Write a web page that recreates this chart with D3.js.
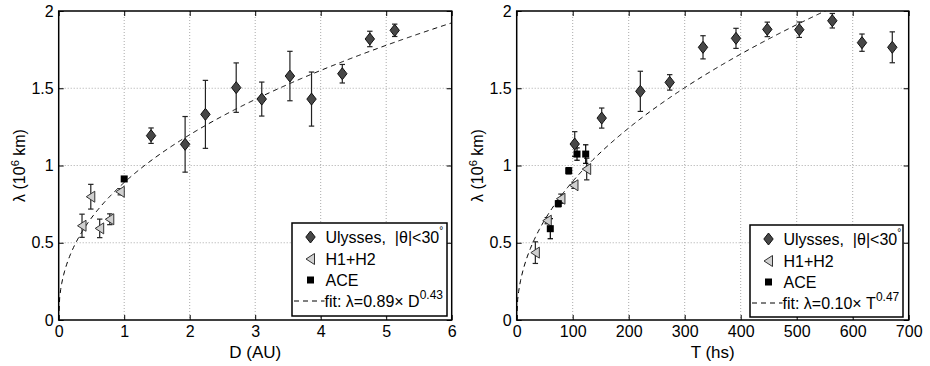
<!DOCTYPE html>
<html><head><meta charset="utf-8">
<script src="https://cdn.jsdelivr.net/npm/d3@7/dist/d3.min.js"></script>
<style>body{margin:0;background:#fff}svg{display:block;font-family:"Liberation Sans",Arial,sans-serif}</style>
</head><body><svg id="c" width="930" height="366"></svg>
<script>
// ---- Left panel data (D in AU) ----
const ulyD    = [1.41,1.93,2.24,2.71,3.10,3.53,3.86,4.33,4.75,5.13];
const ulyDLam = [1.193,1.137,1.331,1.504,1.430,1.579,1.430,1.594,1.819,1.875];
const ulyDErr = [0.05,0.18,0.22,0.16,0.11,0.16,0.175,0.06,0.05,0.04];
const hD      = [0.356,0.49,0.626,0.78,0.94];
const hDLam   = [0.61,0.798,0.593,0.652,0.83];
const hDErr   = [0.075,0.08,0.06,0.035,0.02];
const aceD    = [1.0];
const aceDLam = [0.913];
const aceDErr = [0.0];
const fitD    = [0.89,0.43];
// ---- Right panel data (T in hs) ----
const ulyT    = [103.6,151.8,220.8,273.2,332.7,391.6,447.5,504.6,563.6,616.6,670.7];
const ulyTLam = [1.139,1.307,1.480,1.538,1.765,1.823,1.881,1.879,1.937,1.795,1.765];
const ulyTErr = [0.08,0.065,0.13,0.05,0.075,0.065,0.047,0.05,0.047,0.056,0.10];
const hT      = [33.3,54.6,79,102.3,125];
const hTLam   = [0.436,0.643,0.785,0.872,0.977];
const hTErr   = [0.07,0.02,0.03,0.02,0.07];
const aceT    = [60,74.3,92.9,107.7,123.2];
const aceTLam = [0.591,0.753,0.966,1.074,1.074];
const aceTErr = [0.065,0.02,0.02,0.04,0.06];
const fitT    = [0.103,0.47];
const yTicks  = [0,0.5,1,1.5,2];
const yTickLabels = ["0","0.5","1","1.5","2"];
const xTicksD = [0,1,2,3,4,5,6];
const xTicksT = [0,100,200,300,400,500,600,700];

const svg = d3.select("#c");
const yTop=11, yBot=320;
const FS=16;

function panel(o){
  const x = d3.scaleLinear().domain(o.xd).range(o.xr);
  const y = d3.scaleLinear().domain([0,2]).range([yBot,yTop]);
  const g = svg.append("g");
  const id = "clip"+o.key;
  svg.append("clipPath").attr("id",id).append("rect")
     .attr("x",o.xr[0]).attr("y",yTop).attr("width",o.xr[1]-o.xr[0]).attr("height",yBot-yTop);
  // grid
  g.selectAll(".gx").data(o.xt.slice(1,-1)).enter().append("line")
    .attr("x1",d=>x(d)).attr("x2",d=>x(d)).attr("y1",yTop).attr("y2",yBot)
    .attr("stroke","#aaa").attr("stroke-width",1).attr("stroke-dasharray","1,2");
  g.selectAll(".gy").data(yTicks.slice(1,-1)).enter().append("line")
    .attr("y1",d=>y(d)).attr("y2",d=>y(d)).attr("x1",o.xr[0]).attr("x2",o.xr[1])
    .attr("stroke","#aaa").attr("stroke-width",1).attr("stroke-dasharray","1,2");
  // axes
  const ax = d3.axisBottom(x).tickValues(o.xt).tickSize(-5).tickPadding(6).tickFormat(d3.format("d"));
  const axg = g.append("g").attr("transform",`translate(0,${yBot})`).call(ax);
  const ay = d3.axisLeft(y).tickValues(yTicks).tickSize(-5).tickPadding(5).tickFormat((d,i)=>yTickLabels[i]);
  const ayg = g.append("g").attr("transform",`translate(${o.xr[0]},0)`).call(ay);
  const axt = g.append("g").attr("transform",`translate(0,${yTop})`).call(d3.axisTop(x).tickValues(o.xt).tickSize(-5).tickFormat(""));
  const ayr = g.append("g").attr("transform",`translate(${o.xr[1]},0)`).call(d3.axisRight(y).tickValues(yTicks).tickSize(-5).tickFormat(""));
  [axg,ayg,axt,ayr].forEach(a=>{
    a.select(".domain").remove();
    a.selectAll(".tick line").attr("stroke","#000");
    a.selectAll("text").attr("font-size",FS).attr("fill","#000").attr("font-family","Liberation Sans, Arial, sans-serif");
  });
  g.append("rect").attr("x",o.xr[0]).attr("y",yTop).attr("width",o.xr[1]-o.xr[0]).attr("height",yBot-yTop)
    .attr("fill","none").attr("stroke","#000").attr("stroke-width",1.5);
  // axis labels
  g.append("text").attr("x",(o.xr[0]+o.xr[1])/2).attr("y",358).attr("text-anchor","middle")
    .attr("font-size",17).text(o.xlabel);
  const yl = g.append("text").attr("transform",`translate(${o.xr[0]-34},${(yTop+yBot)/2}) rotate(-90)`)
    .attr("text-anchor","middle").attr("font-size",FS);
  yl.append("tspan").text("λ (10");
  yl.append("tspan").attr("font-size",11).attr("dy",-6).text("6");
  yl.append("tspan").attr("dy",6).text(" km)");
  // fit
  const fx = d3.range(0,401).map(i=>o.xd[1]*i/400);
  const line = d3.line().x(d=>x(d)).y(d=>y(o.fit[0]*Math.pow(d,o.fit[1])));
  g.append("path").attr("clip-path",`url(#${id})`).attr("d",line(fx))
    .attr("fill","none").attr("stroke","#000").attr("stroke-width",1).attr("stroke-dasharray","5,4");
  // error bars
  function errs(xs,ys,es,col){
    const eg = g.append("g").attr("stroke",col).attr("stroke-width",1.2);
    xs.forEach((xv,i)=>{
      if(!es[i]) return;
      const cx=x(xv), y1=y(ys[i]-es[i]), y2=y(ys[i]+es[i]);
      eg.append("line").attr("x1",cx).attr("x2",cx).attr("y1",y1).attr("y2",y2);
      eg.append("line").attr("x1",cx-2.7).attr("x2",cx+2.7).attr("y1",y1).attr("y2",y1);
      eg.append("line").attr("x1",cx-2.7).attr("x2",cx+2.7).attr("y1",y2).attr("y2",y2);
    });
  }
  errs(o.h[0],o.h[1],o.h[2],"#222");
  errs(o.a[0],o.a[1],o.a[2],"#000");
  errs(o.u[0],o.u[1],o.u[2],"#222");
  // markers
  g.selectAll(".hm").data(o.h[0]).enter().append("path")
    .attr("d",(d,i)=>tri(x(d),y(o.h[1][i]))).attr("fill","#d0d0d0").attr("stroke","#333").attr("stroke-width",1);
  g.selectAll(".am").data(o.a[0]).enter().append("rect")
    .attr("x",d=>x(d)-3.5).attr("y",(d,i)=>y(o.a[1][i])-3.5).attr("width",7).attr("height",7).attr("fill","#000");
  g.selectAll(".um").data(o.u[0]).enter().append("path")
    .attr("d",(d,i)=>dia(x(d),y(o.u[1][i]))).attr("fill","#474747").attr("stroke","#111").attr("stroke-width",1);
  // legend
  const L=o.leg;
  g.append("rect").attr("x",L[0]).attr("y",L[1]).attr("width",L[2]).attr("height",L[3])
    .attr("fill","#fff").attr("stroke","#000").attr("stroke-width",1.5);
  const mx=L[0]+18.5, tx=L[0]+33.5;
  const ry=[L[1]+14,L[1]+36,L[1]+57,L[1]+78];
  g.append("path").attr("d",dia(mx,ry[0])).attr("fill","#474747").attr("stroke","#111");
  g.append("path").attr("d",tri(mx,ry[1])).attr("fill","#d0d0d0").attr("stroke","#333");
  g.append("rect").attr("x",mx-3.5).attr("y",ry[2]-3.5).attr("width",7).attr("height",7).attr("fill","#000");
  g.append("line").attr("x1",L[0]+2).attr("x2",tx-1).attr("y1",ry[3]).attr("y2",ry[3])
    .attr("stroke","#000").attr("stroke-dasharray","5,4");
  const t0=g.append("text").attr("x",tx).attr("y",ry[0]+6).attr("font-size",FS);
  t0.append("tspan").text("Ulysses,\u00a0\u00a0|θ|<30");
  t0.append("tspan").attr("font-size",10).attr("dy",-9).text("°");
  g.append("text").attr("x",tx).attr("y",ry[1]+6).attr("font-size",FS).text("H1+H2");
  g.append("text").attr("x",tx).attr("y",ry[2]+6).attr("font-size",FS).text("ACE");
  const t3=g.append("text").attr("x",tx-1).attr("y",ry[3]+6).attr("font-size",FS);
  t3.append("tspan").text("fit: λ="+o.fitLabel[0]+"× "+o.fitLabel[1]);
  t3.append("tspan").attr("font-size",12).attr("dy",-8).text(o.fitLabel[2]);
}
function dia(cx,cy){return `M${cx},${cy-6}L${cx+4.7},${cy}L${cx},${cy+6}L${cx-4.7},${cy}Z`;}
function tri(cx,cy){return `M${cx-4.5},${cy}L${cx+4},${cy-5.5}L${cx+4},${cy+5.5}Z`;}

panel({key:"L",xd:[0,6],xr:[58.7,451.7],xt:xTicksD,xlabel:"D (AU)",fit:fitD,
  fitLabel:["0.89","D","0.43"],
  u:[ulyD,ulyDLam,ulyDErr],h:[hD,hDLam,hDErr],a:[aceD,aceDLam,aceDErr],leg:[292,223,155,93]});
panel({key:"R",xd:[0,700],xr:[516.7,908.7],xt:xTicksT,xlabel:"T (hs)",fit:fitT,
  fitLabel:["0.10","T","0.47"],
  u:[ulyT,ulyTLam,ulyTErr],h:[hT,hTLam,hTErr],a:[aceT,aceTLam,aceTErr],leg:[750,225,153,92]});
</script></body></html>
